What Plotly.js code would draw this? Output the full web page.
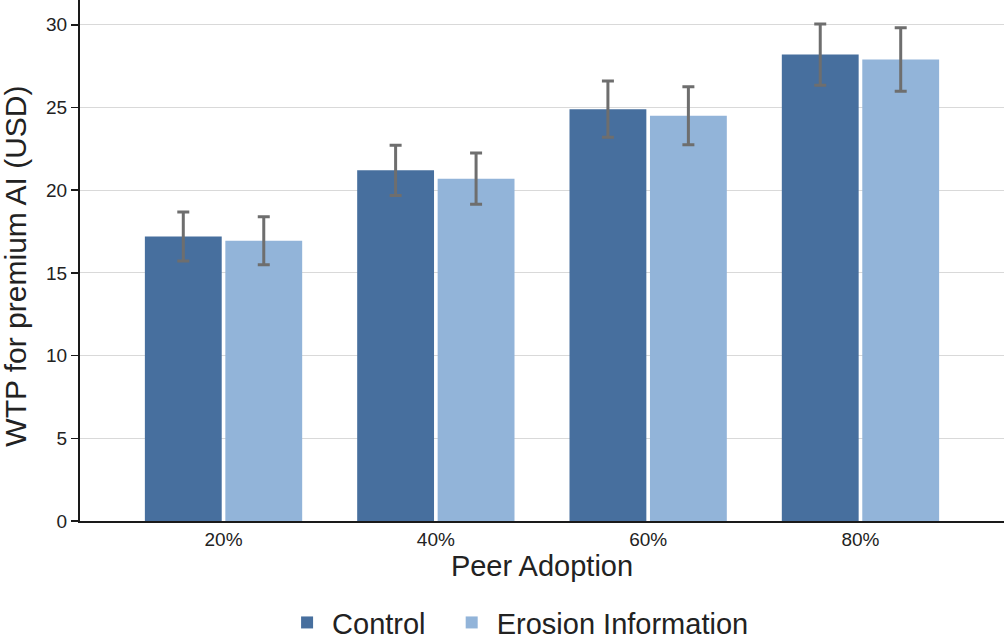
<!DOCTYPE html>
<html>
<head>
<meta charset="utf-8">
<script src="https://cdn.plot.ly/plotly-3.0.1.min.js"></script>
<style>
  html, body { margin: 0; padding: 0; background: #fff; }
  #chart { width: 1004px; height: 640px; }
</style>
</head>
<body>
<div id="chart"></div>
<script>
// Peer adoption levels
const categories = ["20%", "40%", "60%", "80%"];

// Mean WTP (USD) and error half-widths
const controlValues = [17.2, 21.2, 24.9, 28.2];
const controlErrors = [1.48, 1.52, 1.7, 1.85];
const erosionValues = [16.95, 20.7, 24.5, 27.9];
const erosionErrors = [1.45, 1.55, 1.75, 1.92];

const fontFamily = "Liberation Sans, Arial, sans-serif";
const textColor = "#222222";

const errorStyle = (vals) => ({
  type: "data",
  array: vals,
  visible: true,
  color: "#6e6e6e",
  thickness: 3,
  width: 6,
});

const traces = [
  {
    type: "bar",
    // trailing no-break spaces widen the gap to the next legend entry
    name: "Control\u00a0\u00a0",
    x: categories,
    y: controlValues,
    error_y: errorStyle(controlErrors),
    marker: { color: "#476f9e" },
  },
  {
    type: "bar",
    name: "Erosion Information",
    x: categories,
    y: erosionValues,
    error_y: errorStyle(erosionErrors),
    marker: { color: "#92b4d9" },
  },
];

const layout = {
  width: 1004,
  height: 640,
  margin: { l: 80, r: 0, t: 0, b: 119, autoexpand: false },
  paper_bgcolor: "#ffffff",
  plot_bgcolor: "#ffffff",
  font: { family: fontFamily, color: textColor, size: 19 },
  barmode: "group",
  bargap: 0.242,
  bargroupgap: 0.045,
  xaxis: {
    type: "category",
    range: [-0.676, 3.676],
    showline: true,
    linecolor: "#1a1a1a",
    linewidth: 2,
    ticks: "",
    showgrid: false,
    tickfont: { size: 19, color: textColor },
    title: { text: "Peer Adoption", font: { size: 29, color: textColor }, standoff: 4 },
  },
  yaxis: {
    range: [0, 31.5],
    tickvals: [0, 5, 10, 15, 20, 25, 30],
    showline: true,
    linecolor: "#1a1a1a",
    linewidth: 2,
    ticks: "outside",
    ticklen: 7,
    tickwidth: 1.5,
    tickcolor: "#1a1a1a",
    showgrid: true,
    gridcolor: "#d9d9d9",
    gridwidth: 1.2,
    zeroline: false,
    tickfont: { size: 19, color: textColor },
  },
  // y title as an annotation so it can sit closer to the page edge
  annotations: [
    {
      text: "WTP for premium AI (USD)",
      xref: "paper",
      yref: "paper",
      x: -0.0693,
      y: 0.49,
      xanchor: "center",
      yanchor: "middle",
      textangle: -90,
      showarrow: false,
      font: { size: 30, color: textColor },
    },
  ],
  showlegend: true,
  legend: {
    orientation: "h",
    x: 0.2187,
    xanchor: "left",
    y: -0.195,
    yanchor: "middle",
    font: { size: 29, color: textColor },
    traceorder: "normal",
    itemwidth: 40,
  },
};

Plotly.newPlot("chart", traces, layout, { displayModeBar: false, staticPlot: true });
</script>
</body>
</html>
